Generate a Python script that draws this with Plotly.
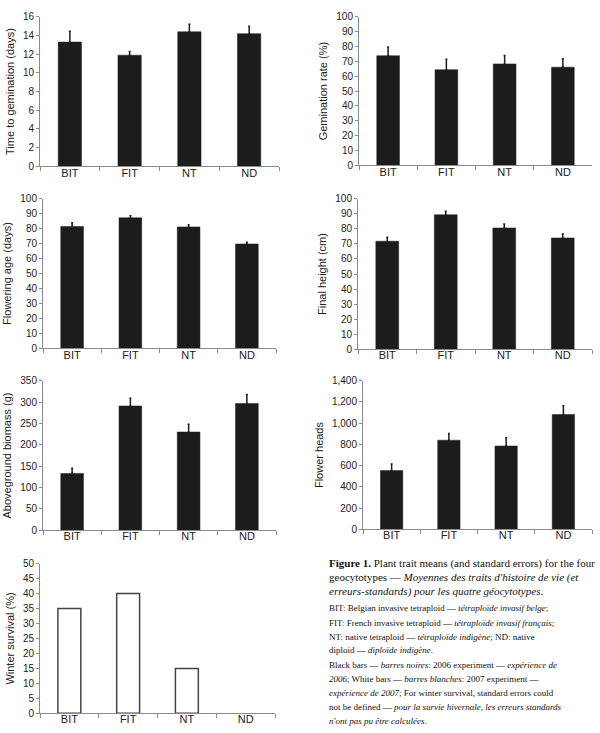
import plotly.graph_objects as go

# ---------------- data ----------------
categories = ["BIT", "FIT", "NT", "ND"]

germ_time = [13.3, 11.9, 14.4, 14.2]
germ_time_se = [1.15, 0.4, 0.8, 0.8]

germ_rate = [73.8, 64.4, 68.3, 66.1]
germ_rate_se = [5.9, 7.1, 5.7, 5.7]

flower_age = [81.5, 87.3, 81.2, 69.8]
flower_age_se = [2.4, 1.3, 1.4, 1.1]

final_height = [71.8, 89.4, 80.6, 74.0]
final_height_se = [2.6, 2.4, 2.6, 2.6]

biomass = [133, 291, 230, 297]
biomass_se = [12, 18, 18, 21]

flower_heads = [553, 840, 785, 1082]
flower_heads_se = [62, 62, 77, 83]

winter_survival = [35, 40, 15, 0]

y_titles = ["Time to gemination (days)", "Gemination rate (%)",
            "Flowering age (days)", "Final height (cm)",
            "Aboveground biomass (g)", "Flower heads",
            "Winter survival (%)"]

# ---------------- layout helpers ----------------
W, H = 600, 733
BAR = "#1c1c1c"
AXC = "#8a8a8a"
SANS = "Liberation Sans, Arial, sans-serif"
SERIF = "Liberation Serif, Times New Roman, serif"

# pixel boxes: (left, right, top, bottom)
boxes = [
    (40, 279, 11, 163),
    (359, 592, 11, 162),
    (43, 276, 196, 348),
    (358, 592, 196, 349),
    (43, 276, 381, 533),
    (363, 592, 381, 532),
    (40, 275, 567, 719),
]
yranges = [(0, 16, 2), (0, 100, 10), (0, 100, 10), (0, 100, 10),
           (0, 350, 50), (0, 1400, 200), (0, 50, 5)]

series = [
    (germ_time, germ_time_se),
    (germ_rate, germ_rate_se),
    (flower_age, flower_age_se),
    (final_height, final_height_se),
    (biomass, biomass_se),
    (flower_heads, flower_heads_se),
    (winter_survival, None),
]

fig = go.Figure()
layout = {}
for i, ((vals, se), box, yr, yt) in enumerate(zip(series, boxes, yranges, y_titles)):
    n = "" if i == 0 else str(i + 1)
    l, r, t, b = box
    if se is not None:
        fig.add_trace(go.Bar(
            x=categories, y=vals, width=0.39,
            marker=dict(color=BAR, line=dict(color=BAR, width=0.5)),
            error_y=dict(type="data", symmetric=False, array=se,
                         arrayminus=[0] * len(se), color=BAR,
                         thickness=1.5, width=1),
            xaxis="x" + n, yaxis="y" + n, showlegend=False,
        ))
    else:
        fig.add_trace(go.Bar(
            x=categories, y=vals, width=0.39,
            marker=dict(color="white",
                        line=dict(color="#444444",
                                  width=[1.5 if v > 0 else 0 for v in vals])),
            xaxis="x" + n, yaxis="y" + n, showlegend=False,
        ))
    layout["xaxis" + n] = dict(
        domain=[l / W, r / W], anchor="y" + n, type="category",
        range=[-0.5, 3.5], tickson="boundaries", ticks="outside", ticklen=4,
        tickcolor=AXC, showline=True, linecolor=AXC, linewidth=1,
        showgrid=False, zeroline=False, ticklabelstandoff=-4,
        tickfont=dict(family=SANS, size=11, color="#222"),
    )
    layout["yaxis" + n] = dict(
        domain=[1 - b / H, 1 - t / H], anchor="x" + n,
        range=[yr[0], yr[1]], dtick=yr[2], tick0=0,
        ticks="outside", ticklen=3, tickcolor=AXC,
        showline=True, linecolor=AXC, linewidth=1,
        showgrid=False, zeroline=False,
        tickformat=",d",
        tickfont=dict(family=SANS, size=10, color="#222"),
        title=dict(text=yt, standoff=6,
                   font=dict(family=SANS, size=11, color="#222")),
    )

# ---------------- caption ----------------
cap_x = 327 / W
para1 = [
    (567, "<b>Figure 1.</b> Plant trait means (and standard errors) for the four"),
    (581, "geocytotypes — <i>Moyennes des traits d'histoire de vie (et</i>"),
    (595, "<i>erreurs-standards) pour les quatre géocytotypes</i>."),
]
para2 = [
    (612, "BIT: Belgian invasive tetraploid — <i>tétraploïde invasif belge</i>;"),
    (627, "FIT: French invasive tetraploid — <i>tétraploïde invasif français</i>;"),
    (641, "NT: native tetraploid — <i>tétraploïde indigène</i>; ND: native"),
    (655, "diploid — <i>diploïde indigène</i>."),
    (670, "Black bars — <i>barres noires</i>: 2006 experiment — <i>expérience de</i>"),
    (684, "<i>2006</i>; White bars — <i>barres blanches</i>: 2007 experiment —"),
    (698, "<i>expérience de 2007</i>; For winter survival, standard errors could"),
    (713, "not be defined — <i>pour la survie hivernale, les erreurs standards</i>"),
    (727, "<i>n'ont pas pu être calculées</i>."),
]
anns = []
for y, txt in para1:
    anns.append(dict(x=cap_x, y=1 - y / H, xref="paper", yref="paper",
                     xanchor="left", yanchor="middle", showarrow=False,
                     text=txt, align="left",
                     font=dict(family=SERIF, size=11, color="#111")))
for y, txt in para2:
    anns.append(dict(x=cap_x, y=1 - y / H, xref="paper", yref="paper",
                     xanchor="left", yanchor="middle", showarrow=False,
                     text=txt, align="left",
                     font=dict(family=SERIF, size=9, color="#111")))

fig.update_layout(
    width=W, height=H,
    margin=dict(l=0, r=0, t=0, b=0),
    paper_bgcolor="white", plot_bgcolor="white",
    annotations=anns,
    **layout,
)

fig.write_html("out.html")
